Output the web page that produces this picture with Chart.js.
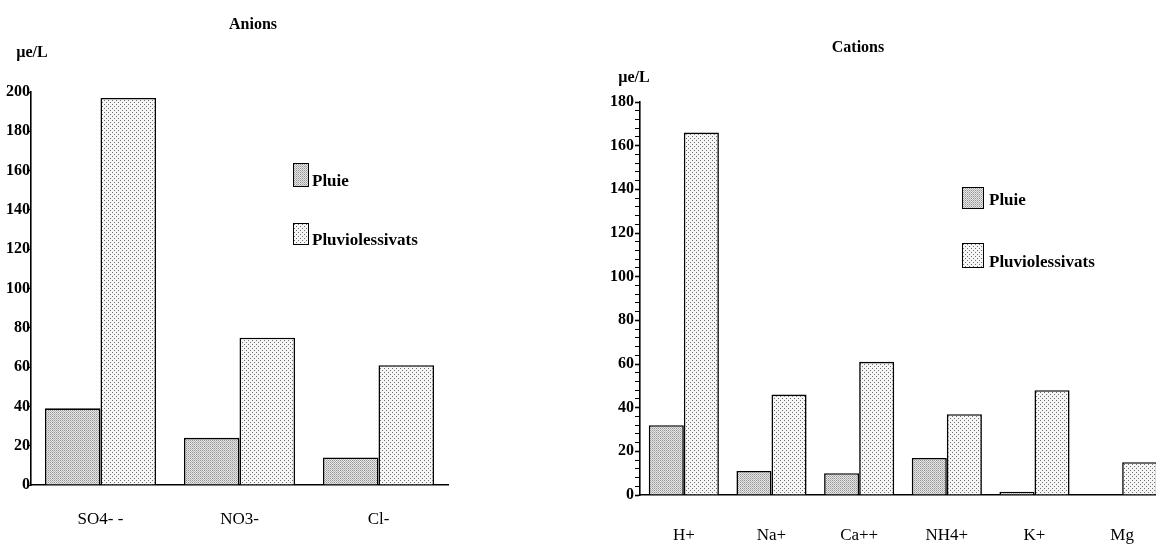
<!DOCTYPE html>
<html lang="fr">
<head>
  <meta charset="UTF-8">
  <title>Anions / Cations</title>
  <script src="https://cdn.jsdelivr.net/npm/chart.js"></script>
  <style>
    body { margin: 0; width: 1156px; height: 549px; overflow: hidden; background: #fff; position: relative; font-family: "Liberation Serif", "DejaVu Serif", serif; color: #000; }
    canvas { position: absolute; top: 0; }
    #graficoAnions { left: 0; }
    #graficoCations { left: 560px; }
    .txt { position: absolute; white-space: nowrap; line-height: 18px; }
    .titulo { font-size: 16px; font-weight: bold; text-align: center; width: 120px; }
    .unite { font-size: 16px; font-weight: bold; text-align: center; width: 60px; }
    .leg { font-size: 17px; font-weight: bold; }
    .swatch { position: absolute; border: 1.5px solid #000; box-sizing: border-box; }
  </style>
</head>
<body>
  <canvas id="graficoAnions" width="470" height="549"></canvas>
  <canvas id="graficoCations" width="640" height="549"></canvas>

  <div class="txt titulo" style="left:193px; top:15px;">Anions</div>
  <div class="txt titulo" style="left:798px; top:38px;">Cations</div>
  <div class="txt unite" style="left:2px; top:43px;">µe/L</div>
  <div class="txt unite" style="left:604px; top:68px;">µe/L</div>

  <!-- legendes -->
  <div class="swatch pluie" style="left:293px; top:163px; width:16px; height:24px;"></div>
  <div class="txt leg" style="left:312px; top:172px;">Pluie</div>
  <div class="swatch pluvio" style="left:293px; top:223px; width:16px; height:22px;"></div>
  <div class="txt leg" style="left:312px; top:231px;">Pluviolessivats</div>

  <div class="swatch pluie" style="left:962px; top:187px; width:22px; height:22px;"></div>
  <div class="txt leg" style="left:989px; top:191px;">Pluie</div>
  <div class="swatch pluvio" style="left:962px; top:243px; width:22px; height:25px;"></div>
  <div class="txt leg" style="left:989px; top:253px;">Pluviolessivats</div>

  <script>
    // valeurs (µe/L)
    const anionLabels = ['SO4- -', 'NO3-', 'Cl-'];
    const anionPluie = [39, 24, 14];
    const anionPluvio = [197, 75, 61];

    const cationLabels = ['H+', 'Na+', 'Ca++', 'NH4+', 'K+', 'Mg'];
    const cationPluie = [32, 11, 10, 17, 1.5, 0];
    const cationPluvio = [166, 46, 61, 37, 48, 15];

    const anionMax = 200;
    const cationMax = 180;
    const majorStep = 20;
    const minorStep = 4;

    // trames (pointillés) des barres
    function makePattern(size, bg, dots) {
      const c = document.createElement('canvas');
      c.width = size; c.height = size;
      const g = c.getContext('2d');
      g.fillStyle = bg;
      g.fillRect(0, 0, size, size);
      dots.forEach(d => { g.fillStyle = d[2]; g.fillRect(d[0], d[1], 1, 1); });
      return c;
    }
    const pluieCanvas = makePattern(2, '#e6e6e6', [[0, 0, '#959595'], [1, 1, '#b8b8b8']]);
    const pluvioCanvas = makePattern(4, '#f6f6f6', [[0, 0, '#6f6f6f'], [2, 2, '#6f6f6f']]);
    const ctxTmp = document.createElement('canvas').getContext('2d');
    const pluieFill = ctxTmp.createPattern(pluieCanvas, 'repeat');
    const pluvioFill = ctxTmp.createPattern(pluvioCanvas, 'repeat');

    document.querySelectorAll('.pluie').forEach(el => el.style.backgroundImage = 'url(' + pluieCanvas.toDataURL() + ')');
    document.querySelectorAll('.pluvio').forEach(el => el.style.backgroundImage = 'url(' + pluvioCanvas.toDataURL() + ')');

    const tickFont = { family: '"Liberation Serif", serif', size: 16, weight: 'bold' };
    const catFont = { family: '"Liberation Serif", serif', size: 17 };

    const datasets = (pluie, pluvio) => ([
      {
        label: 'Pluie',
        data: pluie,
        backgroundColor: pluieFill,
        borderColor: '#000',
        borderWidth: 1.6,
        categoryPercentage: 0.8,
        barPercentage: 1
      },
      {
        label: 'Pluviolessivats',
        data: pluvio,
        backgroundColor: pluvioFill,
        borderColor: '#000',
        borderWidth: 1.6,
        categoryPercentage: 0.8,
        barPercentage: 1
      }
    ]);

    // graphique des anions
    new Chart(document.getElementById('graficoAnions'), {
      type: 'bar',
      data: { labels: anionLabels, datasets: datasets(anionPluie, anionPluvio) },
      options: {
        responsive: false,
        animation: false,
        layout: { padding: { left: 0, right: 22, top: 92, bottom: 0 } },
        plugins: { legend: { display: false }, tooltip: { enabled: false } },
        scales: {
          x: {
            grid: { display: false, drawTicks: false },
            border: { display: true, color: '#000', width: 1.6 },
            ticks: { color: '#000', font: catFont, padding: 24, maxRotation: 0 },
            afterFit: s => { s.height = 64; }
          },
          y: {
            min: 0,
            max: anionMax,
            grid: { drawOnChartArea: false, tickLength: 4, color: '#000', tickWidth: 1.2 },
            border: { display: true, color: '#000', width: 1.6 },
            ticks: { stepSize: majorStep, color: '#000', font: tickFont, padding: -3 },
            afterFit: s => { s.width = 31; }
          }
        }
      }
    });

    // graphique des cations
    new Chart(document.getElementById('graficoCations'), {
      type: 'bar',
      data: { labels: cationLabels, datasets: datasets(cationPluie, cationPluvio) },
      options: {
        responsive: false,
        animation: false,
        layout: { padding: { left: 0, right: 34, top: 102, bottom: 0 } },
        plugins: { legend: { display: false }, tooltip: { enabled: false } },
        scales: {
          x: {
            grid: { display: false, drawTicks: false },
            border: { display: true, color: '#000', width: 1.6 },
            ticks: { color: '#000', font: catFont, padding: 30, maxRotation: 0 },
            afterFit: s => { s.height = 54; }
          },
          y: {
            min: 0,
            max: cationMax,
            grid: {
              drawOnChartArea: false,
              tickLength: 5,
              color: '#000',
              tickWidth: c => (c.tick && c.tick.value % majorStep === 0) ? 1.6 : 1
            },
            border: { display: true, color: '#000', width: 1.6 },
            ticks: {
              stepSize: minorStep,
              autoSkip: false,
              color: '#000',
              font: tickFont,
              padding: 1,
              callback: v => (v % majorStep === 0 ? v : '')
            },
            afterFit: s => { s.width = 80; }
          }
        }
      }
    });
  </script>
</body>
</html>
